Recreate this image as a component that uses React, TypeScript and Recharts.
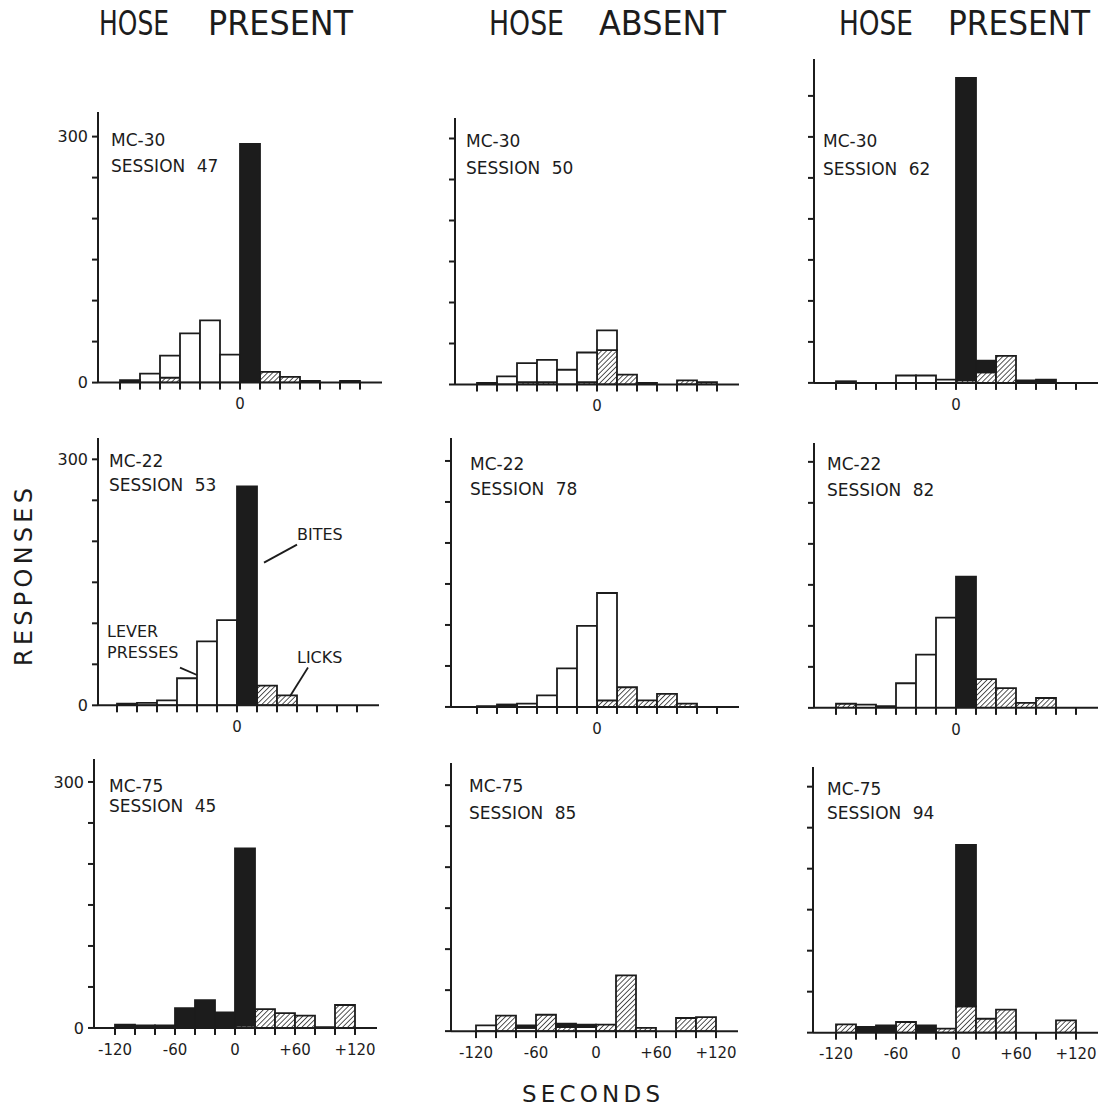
import React from "react";
import { BarChart, Bar, XAxis, YAxis, ReferenceLine, ReferenceDot } from "recharts";

// 20-second bins around the reinforcement time (0)
const binCenters = [-110, -90, -70, -50, -30, -10, 10, 30, 50, 70, 90, 110];
const timeTicks = [-120, -100, -80, -60, -40, -20, 0, 20, 40, 60, 80, 100, 120];
const countTicks = [0, 50, 100, 150, 200, 250, 300];
const tallCountTicks = [0, 50, 100, 150, 200, 250, 300, 350];

const columnTitles = ["HOSE PRESENT", "HOSE ABSENT", "HOSE PRESENT"];

// MC-30
const s47Licks = [0, 0, 6, 0, 0, 0, 0, 13, 7, 0, 0, 0];
const s47Lever = [0, 11, 27, 60, 76, 34, 0, 0, 0, 0, 0, 0];
const s47Bites = [3, 0, 0, 0, 0, 0, 291, 0, 0, 2, 0, 2];

const s50Licks = [0, 0, 3, 3, 0, 3, 42, 12, 0, 0, 5, 3];
const s50Lever = [0, 10, 23, 27, 18, 36, 24, 0, 0, 0, 0, 0];
const s50Bites = [2, 0, 0, 0, 0, 0, 0, 0, 2, 0, 0, 0];

const s62Licks = [0, 0, 0, 0, 0, 0, 3, 13, 33, 0, 0, 0];
const s62Lever = [0, 0, 0, 9, 9, 4, 0, 0, 0, 0, 0, 0];
const s62Bites = [2, 0, 0, 0, 0, 0, 369, 14, 0, 3, 4, 0];

// MC-22
const s53Licks = [0, 0, 0, 0, 0, 0, 0, 24, 12, 0, 0, 0];
const s53Lever = [2, 3, 6, 33, 78, 104, 0, 0, 0, 0, 0, 0];
const s53Bites = [0, 0, 0, 0, 0, 0, 267, 0, 0, 0, 0, 0];

const s78Licks = [0, 0, 0, 0, 0, 0, 8, 24, 8, 16, 4, 0];
const s78Lever = [1, 1, 4, 14, 47, 99, 131, 0, 0, 0, 0, 0];
const s78Bites = [0, 2, 0, 0, 0, 0, 0, 0, 0, 0, 0, 0];

const s82Licks = [5, 0, 0, 0, 0, 0, 0, 35, 24, 6, 12, 0];
const s82Lever = [0, 4, 2, 30, 65, 110, 0, 0, 0, 0, 0, 0];
const s82Bites = [0, 0, 0, 0, 0, 0, 160, 0, 0, 0, 0, 0];

// MC-75
const s45Licks = [0, 0, 0, 0, 0, 0, 3, 23, 18, 15, 0, 28];
const s45Lever = [0, 0, 0, 0, 0, 0, 0, 0, 0, 0, 0, 0];
const s45Bites = [4, 3, 3, 24, 34, 19, 216, 0, 0, 0, 1, 0];

const s85Licks = [0, 19, 0, 20, 5, 0, 8, 68, 4, 0, 16, 17];
const s85Lever = [7, 0, 4, 0, 0, 5, 0, 0, 0, 0, 0, 0];
const s85Bites = [0, 0, 3, 0, 4, 3, 0, 0, 0, 0, 0, 0];

const s94Licks = [10, 0, 0, 13, 0, 5, 32, 17, 28, 0, 0, 15];
const s94Lever = [0, 0, 0, 0, 0, 0, 0, 0, 0, 0, 0, 0];
const s94Bites = [0, 7, 9, 0, 9, 0, 197, 0, 0, 0, 0, 0];

const INK = "#1c1c1c";
const FONT = "'DejaVu Sans', 'Liberation Sans', sans-serif";
const PPU = 0.82; // px per response
const Y_AXIS_W = 50;
const TOP_M = 4;
const X_AXIS_H = 40;
const PAD_R = 22;

const panels = [
  { subject: "MC-30", session: 47, licks: s47Licks, lever: s47Lever, bites: s47Bites, row: 0, col: 0, axisX: 98, zeroY: 383, padL: 22, ymax: 330, lx: 111, ly: 146, ly2: 172 },
  { subject: "MC-30", session: 50, licks: s50Licks, lever: s50Lever, bites: s50Bites, row: 0, col: 1, axisX: 455, zeroY: 384, padL: 22, ymax: 325, lx: 466, ly: 147, ly2: 174 },
  { subject: "MC-30", session: 62, licks: s62Licks, lever: s62Lever, bites: s62Bites, row: 0, col: 2, axisX: 814, zeroY: 383, padL: 22, ymax: 395, lx: 823, ly: 147, ly2: 175 },
  { subject: "MC-22", session: 53, licks: s53Licks, lever: s53Lever, bites: s53Bites, row: 1, col: 0, axisX: 98, zeroY: 705, padL: 19, ymax: 326, lx: 109, ly: 467, ly2: 491 },
  { subject: "MC-22", session: 78, licks: s78Licks, lever: s78Lever, bites: s78Bites, row: 1, col: 1, axisX: 451, zeroY: 707, padL: 26, ymax: 328, lx: 470, ly: 470, ly2: 495 },
  { subject: "MC-22", session: 82, licks: s82Licks, lever: s82Lever, bites: s82Bites, row: 1, col: 2, axisX: 814, zeroY: 708, padL: 22, ymax: 323, lx: 827, ly: 470, ly2: 496 },
  { subject: "MC-75", session: 45, licks: s45Licks, lever: s45Lever, bites: s45Bites, row: 2, col: 0, axisX: 94, zeroY: 1028, padL: 21, ymax: 328, lx: 109, ly: 792, ly2: 812 },
  { subject: "MC-75", session: 85, licks: s85Licks, lever: s85Lever, bites: s85Bites, row: 2, col: 1, axisX: 451, zeroY: 1031, padL: 25, ymax: 327, lx: 469, ly: 792, ly2: 819 },
  { subject: "MC-75", session: 94, licks: s94Licks, lever: s94Lever, bites: s94Bites, row: 2, col: 2, axisX: 813, zeroY: 1033, padL: 23, ymax: 324, lx: 827, ly: 795, ly2: 819 },
];

// legend callouts on the MC-22 session 53 panel, in data units (seconds, responses)
const callouts = [
  { words: "BITES", at: { x: 60, y: 201 }, from: { x: 27, y: 174 }, to: { x: 60, y: 196 } },
  { words: "LEVER", at: { x: -130, y: 83 }, from: null, to: null },
  { words: "PRESSES", at: { x: -130, y: 58 }, from: { x: -57, y: 46 }, to: { x: -40, y: 37 } },
  { words: "LICKS", at: { x: 60, y: 52 }, from: { x: 71, y: 46 }, to: { x: 53, y: 11 } },
];

const fmtZero = (v: number) => (v === 0 ? "0" : "");
const fmtFull = (v: number) => (v === 0 ? "0" : v % 60 === 0 ? (v > 0 ? `+${v}` : `${v}`) : "");
const fmtCount = (v: number) => (v === 0 || v === 300 ? String(v) : "");
const fmtNone = () => "";

function Panel({ cfg, id }: { cfg: any; id: number }) {
  const rows = binCenters.map((t, i) => ({ t, licks: cfg.licks[i], lever: cfg.lever[i], bites: cfg.bites[i] }));
  const plotW = 240 + cfg.padL + PAD_R;
  const plotH = cfg.ymax * PPU;
  const width = Y_AXIS_W + plotW + 4;
  const height = TOP_M + plotH + X_AXIS_H;
  const hatchId = `hatch-${id}`;
  const withCallouts = cfg.row === 1 && cfg.col === 0;

  return (
    <div style={{ position: "absolute", left: cfg.axisX - Y_AXIS_W, top: cfg.zeroY - plotH - TOP_M }}>
      <BarChart
        width={width}
        height={height}
        data={rows}
        margin={{ top: TOP_M, right: 4, bottom: 0, left: 0 }}
        barCategoryGap={0}
        barGap={0}
      >
        <defs>
          <pattern id={hatchId} patternUnits="userSpaceOnUse" width={3.6} height={3.6} patternTransform="rotate(45)">
            <rect width={3.6} height={3.6} fill="#fff" />
            <line x1={0} y1={0} x2={0} y2={3.6} stroke={INK} strokeWidth={1.5} />
          </pattern>
        </defs>
        <XAxis
          type="number"
          dataKey="t"
          domain={[-120 - cfg.padL, 120 + PAD_R]}
          ticks={timeTicks}
          interval={0}
          allowDataOverflow
          height={X_AXIS_H}
          tickSize={7}
          tickMargin={9}
          axisLine={{ stroke: INK, strokeWidth: 2 }}
          tickLine={{ stroke: INK, strokeWidth: 2 }}
          tick={{ fill: INK, fontSize: 15, fontFamily: FONT }}
          tickFormatter={cfg.row === 2 ? fmtFull : fmtZero}
        />
        <YAxis
          type="number"
          domain={[0, cfg.ymax]}
          ticks={cfg.ymax > 360 ? tallCountTicks : countTicks}
          interval={0}
          allowDataOverflow
          width={Y_AXIS_W}
          tickSize={6}
          tickMargin={4}
          axisLine={{ stroke: INK, strokeWidth: 2 }}
          tickLine={{ stroke: INK, strokeWidth: 2 }}
          tick={{ fill: INK, fontSize: 16, fontFamily: FONT }}
          tickFormatter={cfg.col === 0 ? fmtCount : fmtNone}
        />
        <Bar dataKey="licks" stackId="r" fill={`url(#${hatchId})`} stroke={INK} strokeWidth={1.8} isAnimationActive={false} />
        <Bar dataKey="lever" stackId="r" fill="#fff" stroke={INK} strokeWidth={1.8} isAnimationActive={false} />
        <Bar dataKey="bites" stackId="r" fill={INK} stroke={INK} strokeWidth={1.8} isAnimationActive={false} />
        {withCallouts &&
          callouts.map((c) =>
            c.from ? (
              <ReferenceLine key={`l-${c.words}`} segment={[c.from, c.to]} stroke={INK} strokeWidth={1.8} />
            ) : null
          )}
        {withCallouts &&
          callouts.map((c) => (
            <ReferenceDot
              key={`t-${c.words}`}
              x={c.at.x}
              y={c.at.y}
              r={1}
              shape={(p: any) => (
                <text x={p.cx} y={p.cy} fill={INK} fontSize={16} fontFamily={FONT}>
                  {c.words}
                </text>
              )}
            />
          ))}
      </BarChart>
    </div>
  );
}

export default function App() {
  return (
    <div style={{ position: "absolute", left: 0, top: 0, width: 1106, height: 1109, background: "#fff" }}>
      {panels.map((p, i) => (
        <Panel key={i} cfg={p} id={i} />
      ))}
      <svg width={1106} height={1109} style={{ position: "absolute", left: 0, top: 0, pointerEvents: "none" }}>
        <g fill={INK} fontFamily="'DejaVu Sans Condensed', 'DejaVu Sans', sans-serif" fontSize={34}>
          <text x={99} y={35} textLength={70} lengthAdjust="spacingAndGlyphs">{columnTitles[0].split(" ")[0]}</text>
          <text x={208} y={35} textLength={145} lengthAdjust="spacingAndGlyphs">{columnTitles[0].split(" ")[1]}</text>
          <text x={489} y={35} textLength={75} lengthAdjust="spacingAndGlyphs">{columnTitles[1].split(" ")[0]}</text>
          <text x={599} y={35} textLength={127} lengthAdjust="spacingAndGlyphs">{columnTitles[1].split(" ")[1]}</text>
          <text x={839} y={35} textLength={74} lengthAdjust="spacingAndGlyphs">{columnTitles[2].split(" ")[0]}</text>
          <text x={948} y={35} textLength={142} lengthAdjust="spacingAndGlyphs">{columnTitles[2].split(" ")[1]}</text>
        </g>
        <g fill={INK} fontFamily={FONT} fontSize={17}>
          {panels.map((p, i) => (
            <g key={i}>
              <text x={p.lx} y={p.ly}>{p.subject}</text>
              <text x={p.lx} y={p.ly2} wordSpacing={6}>{`SESSION ${p.session}`}</text>
            </g>
          ))}
        </g>
        <text
          transform="translate(32 666) rotate(-90)"
          fill={INK}
          fontFamily={FONT}
          fontSize={24}
          textLength={178}
          lengthAdjust="spacing"
        >
          RESPONSES
        </text>
        <text x={522} y={1102} fill={INK} fontFamily={FONT} fontSize={23} textLength={138} lengthAdjust="spacing">
          SECONDS
        </text>
      </svg>
    </div>
  );
}
